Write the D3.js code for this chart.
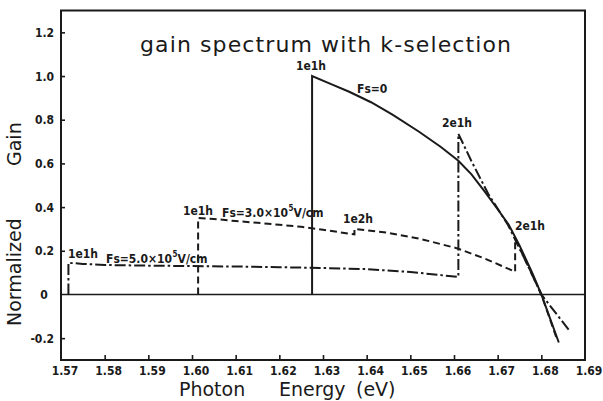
<!DOCTYPE html>
<html>
<head>
<meta charset="utf-8">
<script src="https://cdn.jsdelivr.net/npm/d3@7"></script>
<style>
  html, body { margin: 0; padding: 0; background: #fff; }
  svg { display: block; }
</style>
</head>
<body>
<svg id="chart" width="603" height="401"></svg>
<script>
// ---- data ----
const xTicks = [1.57, 1.58, 1.59, 1.60, 1.61, 1.62, 1.63, 1.64, 1.65, 1.66, 1.67, 1.68, 1.69];
const xTickLabels = ["1.57","1.58","1.59","1.60","1.61","1.62","1.63","1.64","1.65","1.66","1.67","1.68","1.69"];
const yTicks = [-0.2, 0, 0.2, 0.4, 0.6, 0.8, 1.0, 1.2];
const yTickLabels = ["-0.2","0","0.2","0.4","0.6","0.8","1.0","1.2"];

// Fs = 0 (solid)
const fs0Energy = [1.6275, 1.6275, 1.632, 1.636, 1.641, 1.646, 1.652, 1.657, 1.661, 1.664, 1.667, 1.670, 1.6725, 1.675, 1.678, 1.680, 1.684];
const fs0Gain   = [0, 1.0, 0.962, 0.928, 0.88, 0.822, 0.745, 0.675, 0.612, 0.55, 0.472, 0.39, 0.32, 0.225, 0.095, 0.0, -0.22];

// Fs = 3.0x10^5 V/cm (dashed)
const fs3Energy = [1.6014, 1.6014, 1.605, 1.61, 1.615, 1.62, 1.625, 1.63, 1.6372, 1.6372, 1.645, 1.652, 1.6606, 1.667, 1.674, 1.674, 1.677, 1.680, 1.6835];
const fs3Gain   = [0, 0.35, 0.346, 0.336, 0.328, 0.319, 0.31, 0.296, 0.275, 0.30, 0.282, 0.256, 0.212, 0.165, 0.104, 0.255, 0.13, 0.0, -0.2];

// Fs = 5.0x10^5 V/cm (dash-dot)
const fs5Energy = [1.5717, 1.5717, 1.575, 1.58, 1.59, 1.60, 1.61, 1.62, 1.63, 1.64, 1.65, 1.661, 1.661, 1.664, 1.6678, 1.6724, 1.676, 1.680, 1.6866];
const fs5Gain   = [0, 0.145, 0.14, 0.135, 0.132, 0.13, 0.128, 0.125, 0.121, 0.116, 0.103, 0.08, 0.736, 0.61, 0.462, 0.317, 0.17, 0.0, -0.17];

// ---- drawing ----
const svg = d3.select("#chart");
const X0 = 61, X1 = 585, Y0 = 360, Y1 = 10.5;
const x = d3.scaleLinear().domain([1.57, 1.69]).range([X0, X1]);
const y = d3.scaleLinear().domain([-0.3, 1.3]).range([Y0, Y1]);
const ink = "#1a1a1a";
const tickFont = "'DejaVu Sans Condensed', 'DejaVu Sans', sans-serif";
const mainFont = "'DejaVu Sans', sans-serif";

// axes (inward ticks)
const xAxis = d3.axisBottom(x).tickValues(xTicks.slice(1, -1))
  .tickFormat((d) => xTickLabels[xTicks.indexOf(d)])
  .tickSizeInner(-5).tickSizeOuter(0).tickPadding(6);
const gx = svg.append("g").attr("transform", `translate(0,${Y0})`).call(xAxis);
gx.select(".domain").remove();
gx.selectAll(".tick line").attr("stroke", ink).attr("stroke-width", 1.6);
gx.selectAll(".tick text").remove();

svg.append("g").selectAll("text").data(xTicks).join("text")
  .attr("x", (d) => x(d) + 4).attr("y", 375)
  .attr("text-anchor", "middle")
  .attr("font-family", tickFont).attr("font-weight", "bold").attr("font-size", 12)
  .attr("fill", ink)
  .text((d, i) => xTickLabels[i]);

const yAxis = d3.axisLeft(y).tickValues(yTicks.filter((d) => d !== 0))
  .tickSizeInner(-4).tickSizeOuter(0).tickFormat("");
const gy = svg.append("g").attr("transform", `translate(${X0},0)`).call(yAxis);
gy.select(".domain").remove();
gy.selectAll(".tick line").attr("stroke", ink).attr("stroke-width", 1.6);

svg.append("g").selectAll("text").data(yTicks).join("text")
  .attr("x", (d) => d === 0 ? 44 : 54)
  .attr("y", (d) => y(d) + 4.5)
  .attr("text-anchor", (d) => d === 0 ? "middle" : "end")
  .attr("font-family", tickFont).attr("font-weight", "bold").attr("font-size", 12)
  .attr("fill", ink)
  .text((d, i) => yTickLabels[i]);

// frame
svg.append("rect").attr("x", X0).attr("y", Y1).attr("width", X1 - X0).attr("height", Y0 - Y1)
  .attr("fill", "none").attr("stroke", ink).attr("stroke-width", 2);

// zero line
svg.append("line").attr("x1", X0).attr("x2", X1).attr("y1", y(0)).attr("y2", y(0))
  .attr("stroke", ink).attr("stroke-width", 1.6);

// curves
const line = d3.line().x((d) => x(d[0])).y((d) => y(d[1]));
const series = [
  { e: fs0Energy, g: fs0Gain, dash: null },
  { e: fs3Energy, g: fs3Gain, dash: "7,4" },
  { e: fs5Energy, g: fs5Gain, dash: "11,3,2.5,3" }
];
series.forEach((s) => {
  const pts = s.e.map((v, i) => [v, s.g[i]]);
  svg.append("path").attr("d", line(pts))
    .attr("fill", "none").attr("stroke", ink).attr("stroke-width", 2)
    .attr("stroke-linejoin", "miter")
    .attr("stroke-dasharray", s.dash);
});

// annotations
const lab = (tx, ty, str, size) => svg.append("text").attr("x", tx).attr("y", ty)
  .attr("font-family", tickFont).attr("font-weight", "bold")
  .attr("font-size", size || 12).attr("fill", ink).text(str);

lab(296, 70, "1e1h");
lab(357, 93, "Fs=0");
lab(183, 215, "1e1h");
lab(68, 258, "1e1h");
lab(343, 223, "1e2h");
lab(442, 127, "2e1h");
lab(515, 230, "2e1h");

function fieldLabel(tx, ty, mant) {
  const t = svg.append("text").attr("x", tx).attr("y", ty)
    .attr("font-family", tickFont).attr("font-weight", "bold")
    .attr("font-size", 12).attr("fill", ink);
  t.append("tspan").text("Fs=" + mant + "×10");
  t.append("tspan").attr("dy", -6).attr("dx", 0.5).attr("font-size", 8).text("5");
  t.append("tspan").attr("dy", 6).text("V/cm");
}
fieldLabel(222, 217, "3.0");
fieldLabel(106, 263, "5.0");

// title
svg.append("text").attr("x", 140).attr("y", 52)
  .attr("font-family", mainFont).attr("font-size", 22).attr("fill", ink)
  .attr("textLength", 371).attr("lengthAdjust", "spacing")
  .text("gain spectrum with k-selection");

// axis titles
const axisTitle = (tx, ty, str, rot) => svg.append("text")
  .attr("transform", `translate(${tx},${ty})` + (rot ? " rotate(-90)" : ""))
  .attr("font-family", mainFont).attr("font-size", 19).attr("fill", ink).text(str);
axisTitle(179, 396, "Photon");
axisTitle(279, 396, "Energy");
axisTitle(356, 396, "(eV)");
axisTitle(21, 326, "Normalized", true);
axisTitle(21, 166, "Gain", true);
</script>
</body>
</html>
